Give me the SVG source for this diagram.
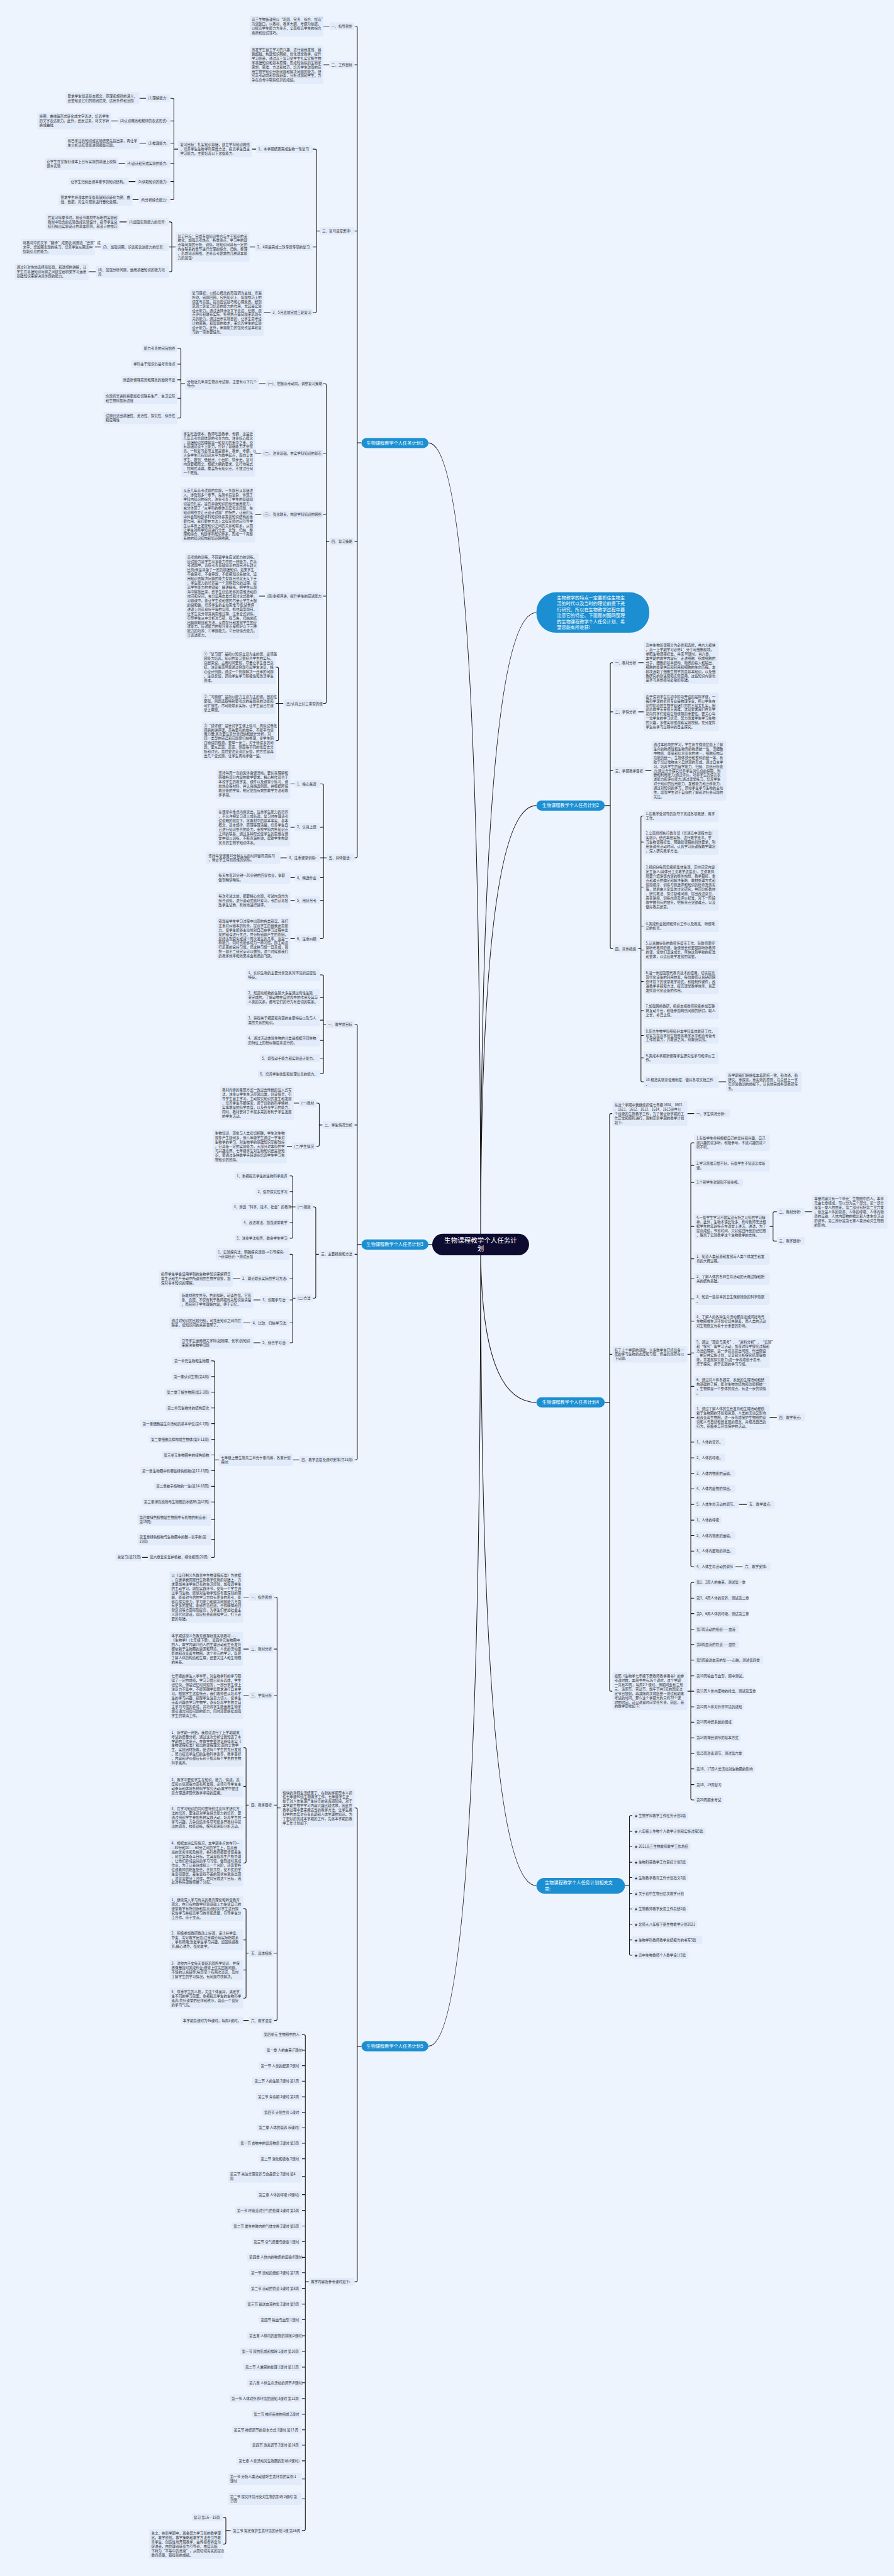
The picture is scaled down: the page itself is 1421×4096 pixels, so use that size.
<svg xmlns="http://www.w3.org/2000/svg" width="1421" height="4096" viewBox="0 0 1421 4096">
<style>
.b{fill:#e2ebfa}
.t{font-family:"Noto Sans CJK SC","Noto Sans",sans-serif;font-size:10px;fill:#333}
.c{fill:none;stroke:#1c1c1c;stroke-width:2}
.m{fill:#1c8fd2}
.w{font-family:"Noto Sans CJK SC","Noto Sans",sans-serif;font-size:13px;fill:#fff}
.r{fill:#0e0b30}
.rt{font-family:"Noto Sans CJK SC","Noto Sans",sans-serif;font-size:19px;fill:#fff}
</style>
<rect width="1421" height="4096" fill="#eef4fe"/>
<g transform="scale(0.554)">
<g id="connectors">
<path class="c" d="M1379,3572 Q1379,1758 1539,1758 M1379,3572 Q1379,2312 1539,2312 M1379,3572 Q1379,4025 1539,4025 M1379,3572 Q1379,5412 1539,5412 M1379,3572 Q1379,1271 1229,1271 M1379,3572 Q1379,5873 1229,5873 M1240,3572 H1229"/>
<path class="c" d="M1037,1271 H1025 M1017,75 H1021 Q1025,75 1025,79 V2458 Q1025,2462 1021,2462 H1017 M1025,186 H1017 M1025,663 H1017 M1025,1554 H1017"/>
<path class="c" d="M918,663 H908 M897,428 H904 Q908,428 908,432 V893 Q908,897 904,897 H897 M908,709 H897"/>
<path class="c" d="M511,428 H499 M489,282 H495 Q499,282 499,286 V569 Q499,573 495,573 H489 M499,347 H489 M499,411 H489 M499,470 H489 M499,521 H489"/>
<path class="c" d="M504,709 H493 M485,637 H489 Q493,637 493,641 V776 Q493,780 489,780 H485 M493,709 H485"/>
<path class="c" d="M945,1554 H936 M927,1101 H932 Q936,1101 936,1105 V2015 Q936,2019 932,2019 H927 M936,1301 H927 M936,1477 H927 M936,1711 H927"/>
<path class="c" d="M531,1101 H519 M509,1000 H515 Q519,1000 519,1004 V1196 Q519,1200 515,1200 H509 M519,1045 H509 M519,1090 H509 M519,1143 H509"/>
<path class="c" d="M813,2019 H799 M791,1915 H795 Q799,1915 799,1919 V2122 Q799,2126 795,2126 H791 M799,2019 H791"/>
<path class="c" d="M937,2462 H928 M918,2250 H924 Q928,2250 928,2254 V2690 Q928,2694 924,2694 H918 M928,2374 H918 M928,2462 H918 M928,2519 H918 M928,2584 H918"/>
<path class="c" d="M928,75 H945 M928,186 H945 M723,428 H735 M400,282 H419 M319,347 H338 M400,411 H419 M340,470 H359 M369,521 H389 M380,573 H398 M716,709 H732 M343,637 H364 M272,709 H289 M254,780 H275 M757,897 H776 M743,1101 H762 M732,1301 H750 M732,1477 H750 M743,1711 H760 M833,2250 H846 M833,2374 H846 M804,2462 H823 M833,2519 H846 M833,2584 H846 M833,2694 H846"/>
<path class="c" d="M1037,3572 H1025 M1017,2940 H1021 Q1025,2940 1025,2944 V4186 Q1025,4190 1021,4190 H1017 M1025,3229 H1017 M1025,3600 H1017"/>
<path class="c" d="M935,2940 H928 M918,2798 H924 Q928,2798 928,2802 V3078 Q928,3082 924,3082 H918 M928,2863 H918 M928,2928 H918 M928,2986 H918 M928,3037 H918"/>
<path class="c" d="M925,3229 H916 M908,3166 H912 Q916,3166 916,3170 V3286 Q916,3290 912,3290 H908"/>
<path class="c" d="M915,3600 H906 M898,3464 H902 Q906,3464 906,3468 V3722 Q906,3726 902,3726 H898"/>
<path class="c" d="M848,3464 H840 M831,3375 H836 Q840,3375 840,3379 V3550 Q840,3554 836,3554 H831 M840,3420 H831 M840,3464 H831 M840,3509 H831"/>
<path class="c" d="M848,3726 H840 M831,3600 H836 Q840,3600 840,3604 V3850 Q840,3854 836,3854 H831 M840,3670 H831 M840,3731 H831 M840,3797 H831"/>
<path class="c" d="M628,4190 H616 M606,3906 H612 Q616,3906 616,3910 V4466 Q616,4470 612,4470 H606 M616,3951 H606 M616,3996 H606 M616,4041 H606 M616,4086 H606 M616,4131 H606 M616,4176 H606 M616,4221 H606 M616,4266 H606 M616,4311 H606 M616,4362 H606 M616,4418 H606"/>
<path class="c" d="M843,3166 H858 M823,3290 H838 M668,3670 H689 M727,3731 H747 M698,3797 H719 M727,3854 H747 M840,4190 H859 M408,4470 H424"/>
<path class="c" d="M1037,5873 H1025 M1017,5189 H1021 Q1025,5189 1025,5193 V6545 Q1025,6549 1021,6549 H1017"/>
<path class="c" d="M805,5189 H795 M786,4584 H791 Q795,4584 795,4588 V5795 Q795,5799 791,5799 H786 M795,4733 H786 M795,4867 H786 M795,5181 H786 M795,5606 H786"/>
<path class="c" d="M714,5181 H706 M698,5016 H702 Q706,5016 706,5020 V5343 Q706,5347 702,5347 H698 M706,5127 H698 M706,5217 H698"/>
<path class="c" d="M714,5606 H706 M698,5478 H702 Q706,5478 706,5482 V5731 Q706,5735 702,5735 H698 M706,5568 H698 M706,5654 H698"/>
<path class="c" d="M698,4584 H714 M698,4733 H714 M698,4867 H714 M698,5799 H714"/>
<path class="c" d="M886,6549 H876 M866,5840 H872 Q876,5840 876,5844 V7259 Q876,7263 872,7263 H866 M876,5884.5 H866 M876,5929 H866 M876,5973.5 H866 M876,6018 H866 M876,6062.5 H866 M876,6107 H866 M876,6151.5 H866 M876,6196 H866 M876,6247 H866 M876,6299 H866 M876,6344 H866 M876,6389 H866 M876,6434 H866 M876,6479 H866 M876,6523 H866 M876,6568 H866 M876,6613 H866 M876,6658 H866 M876,6704 H866 M876,6749 H866 M876,6794 H866 M876,6839 H866 M876,6884 H866 M876,6929 H866 M876,6974 H866 M876,7018 H866 M876,7063 H866 M876,7115 H866 M876,7172 H866"/>
<path class="c" d="M662,7263 H648 M640,7225 H644 Q648,7225 648,7229 V7298 Q648,7302 644,7302 H640"/>
<path class="c" d="M1735,2312 H1751 M1759,1902 H1755 Q1751,1902 1751,1906 V2719 Q1751,2723 1755,2723 H1759 M1751,2043 H1759 M1751,2212 H1759"/>
<path class="c" d="M1831,2723 H1839 M1847,2342 H1843 Q1839,2342 1839,2346 V3101 Q1839,3105 1843,3105 H1847 M1839,2417 H1847 M1839,2546 H1847 M1839,2658 H1847 M1839,2727 H1847 M1839,2817 H1847 M1839,2901 H1847 M1839,2972 H1847 M1839,3036 H1847"/>
<path class="c" d="M1831,1902 H1847 M1831,2043 H1847 M1851,2212 H1869 M2062,3105 H2083"/>
<path class="c" d="M1735,4025 H1749 M1757,3196 H1753 Q1749,3196 1749,3200 V4850 Q1749,4854 1753,4854 H1757 M1749,3887 H1757"/>
<path class="c" d="M1972,3887 H1982 M1992,3280 H1986 Q1982,3280 1982,3284 V4493 Q1982,4497 1986,4497 H1992 M1982,3345 H1992 M1982,3394 H1992 M1982,3520 H1992 M1982,3613 H1992 M1982,3670 H1992 M1982,3728 H1992 M1982,3792 H1992 M1982,3883 H1992 M1982,3979 H1992 M1982,4068 H1992 M1982,4139 H1992 M1982,4184 H1992 M1982,4229 H1992 M1982,4273 H1992 M1982,4318 H1992 M1982,4363 H1992 M1982,4407 H1992 M1982,4452 H1992"/>
<path class="c" d="M2208,3520 H2218 M2229,3478 H2222 Q2218,3478 2218,3482 V3558 Q2218,3562 2222,3562 H2229"/>
<path class="c" d="M1972,4854 H1982 M1992,4542 H1986 Q1982,4542 1982,4546 V5162 Q1982,5166 1986,5166 H1992 M1982,4587 H1992 M1982,4631 H1992 M1982,4676 H1992 M1982,4720 H1992 M1982,4765 H1992 M1982,4810 H1992 M1982,4854 H1992 M1982,4899 H1992 M1982,4943 H1992 M1982,4988 H1992 M1982,5033 H1992 M1982,5077 H1992 M1982,5122 H1992"/>
<path class="c" d="M1972,3196 H1992 M2309,3478 H2330 M2208,4068 H2229 M2120,4318 H2143 M2110,4497 H2131"/>
<path class="c" d="M1793,5412 H1806 M1814,5211 H1810 Q1806,5211 1806,5215 V5608 Q1806,5612 1810,5612 H1814 M1806,5256 H1814 M1806,5300 H1814 M1806,5345 H1814 M1806,5389 H1814 M1806,5434 H1814 M1806,5479 H1814 M1806,5523 H1814 M1806,5568 H1814"/>
</g>

<g id="root"><rect class="r" x="1240" y="3541" width="278" height="62" rx="31"/><text class="rt" x="1379" y="3567" text-anchor="middle">生物课程教学个人任务计<tspan x="1379" dy="23">划</tspan></text></g>

<g id="intro"><rect class="m" x="1539" y="1700" width="324" height="116" rx="56"/><text class="w" x="1598" y="1720">生物教学的特点一定要抓住生物生<tspan x="1598" dy="17">活的时代以及当时的理论前提下进</tspan><tspan x="1598" dy="17">行研究，所以在生物教学过程中要</tspan><tspan x="1598" dy="17">注意它的特征。下面是树图网整理</tspan><tspan x="1598" dy="17">的生物课程教学个人任务计划，希</tspan><tspan x="1598" dy="17">望您能有所收获!</tspan></text></g>

<!-- PLAN 1 -->
<g id="p1"><rect class="m" x="1037" y="1257" width="192" height="29" rx="14.5"/><text class="w" x="1133" y="1276" text-anchor="middle">生物课程教学个人任务计划1</text></g>
<g id="p1-1"><rect class="b" x="945" y="63.75" width="72" height="22.5" rx="4"/><text class="t" x="951" y="78.75">一、指导思想</text></g>
<g id="p1-1a"><rect class="b" x="716" y="45" width="212" height="60" rx="4"/><text class="t" x="722" y="60">高三生物备课组以“巩固、完善、综合、提高”<tspan x="722" dy="12.5">为突破口，以教材、教学大纲、考纲为依据，</tspan><tspan x="722" dy="12.5">以提高学生能力为重点，全面提高学生的综合</tspan><tspan x="722" dy="12.5">素质和应试技巧。</tspan></text></g>
<g id="p1-2"><rect class="b" x="945" y="174.75" width="72" height="22.5" rx="4"/><text class="t" x="951" y="189.75">二、工作目标</text></g>
<g id="p1-2a"><rect class="b" x="716" y="131" width="212" height="110" rx="4"/><text class="t" x="722" y="146">激发学生自主学习的兴趣、进行自我发展、自<tspan x="722" dy="12.5">我超越。构建知识网络，优化课堂教学，提升</tspan><tspan x="722" dy="12.5">学习质量，通过高三复习使学生扎实掌握生物</tspan><tspan x="722" dy="12.5">学基础知识和基本原理，形成较熟练的生物学</tspan><tspan x="722" dy="12.5">思想、思维、方法和技巧，培养学生较强的应</tspan><tspan x="722" dy="12.5">用生物学知识分析问题和解决问题的能力。研</tspan><tspan x="722" dy="12.5">究高考动向和命题趋势，分析试题和学生，力</tspan><tspan x="722" dy="12.5">争在高考中取得优异的成绩。</tspan></text></g>
<g id="p1-3"><rect class="b" x="918" y="651.75" width="99" height="22.5" rx="4"/><text class="t" x="924" y="666.75">三、复习进度安排:</text></g>
<g id="p1-3-1"><rect class="b" x="735" y="416.75" width="162" height="22.5" rx="4"/><text class="t" x="741" y="431.75">1、本学期结束完成生物一轮复习</text></g>
<g id="p1-3-1a"><rect class="b" x="511" y="404.25" width="212" height="47.5" rx="4"/><text class="t" x="517" y="419.25">复习目标：扎实知识基础，建立学科知识网络<tspan x="517" dy="12.5">，培养学生生物学科思维方法，提高学生自主</tspan><tspan x="517" dy="12.5">学习能力。主要培养以下这些能力:</tspan></text></g>
<g id="p1-3-1-1"><rect class="b" x="419" y="270.75" width="70" height="22.5" rx="4"/><text class="t" x="425" y="285.75">(1)理解能力:</text></g>
<g id="p1-3-1-1a"><rect class="b" x="188" y="264.5" width="212" height="35" rx="4"/><text class="t" x="194" y="279.5">要求学生知道基本概念、原理和规律的涵义，<tspan x="194" dy="12.5">还要知道它们的前因后果、适用条件和范围</tspan></text></g>
<g id="p1-3-1-2"><rect class="b" x="338" y="335.75" width="151" height="22.5" rx="4"/><text class="t" x="344" y="350.75">(2)认识概念和规律的表达形式:</text></g>
<g id="p1-3-1-2a"><rect class="b" x="107" y="323.25" width="212" height="47.5" rx="4"/><text class="t" x="113" y="338.25">将图、曲线等形式转化成文字表达，培养学生<tspan x="113" dy="12.5">的文字表达能力。此外，还反过来，将文字转</tspan><tspan x="113" dy="12.5">换成曲线.</tspan></text></g>
<g id="p1-3-1-3"><rect class="b" x="419" y="399.75" width="70" height="22.5" rx="4"/><text class="t" x="425" y="414.75">(3)推理能力:</text></g>
<g id="p1-3-1-3a"><rect class="b" x="188" y="393.5" width="212" height="35" rx="4"/><text class="t" x="194" y="408.5">将已学过的知识或实验结果先提出来，再让学<tspan x="194" dy="12.5">生分析该结果能说明哪些问题。</tspan></text></g>
<g id="p1-3-1-4"><rect class="b" x="359" y="458.75" width="130" height="22.5" rx="4"/><text class="t" x="365" y="473.75">(4)设计和完成实验的能力:</text></g>
<g id="p1-3-1-4a"><rect class="b" x="128" y="452.5" width="212" height="35" rx="4"/><text class="t" x="134" y="467.5">让学生在掌握好课本上已有实验的基础上模拟<tspan x="134" dy="12.5">课本实验</tspan></text></g>
<g id="p1-3-1-5"><rect class="b" x="389" y="509.75" width="100" height="22.5" rx="4"/><text class="t" x="395" y="524.75">(5)获取知识的能力:</text></g>
<g id="p1-3-1-5a"><rect class="b" x="197" y="509.75" width="172" height="22.5" rx="4"/><text class="t" x="203" y="524.75">让学生归纳出课本章节的知识结构。</text></g>
<g id="p1-3-1-6"><rect class="b" x="398" y="561.75" width="91" height="22.5" rx="4"/><text class="t" x="404" y="576.75">(6)分析综合能力:</text></g>
<g id="p1-3-1-6a"><rect class="b" x="168" y="555.5" width="212" height="35" rx="4"/><text class="t" x="174" y="570.5">要求学生将课本的某些基础知识转化为图、曲<tspan x="174" dy="12.5">线、数据，对生命现象进行量化处理。</tspan></text></g>
<g id="p1-3-2"><rect class="b" x="732" y="697.75" width="165" height="22.5" rx="4"/><text class="t" x="738" y="712.75">2、4月底完成二轮专题专项的复习</text></g>
<g id="p1-3-2a"><rect class="b" x="504" y="666.5" width="212" height="85" rx="4"/><text class="t" x="510" y="681.5">复习目标：完成专题知识整合与主干知识的系<tspan x="510" dy="12.5">统化，加强高考热点、各章重点、学习中的疑</tspan><tspan x="510" dy="12.5">点等问题的分析、训练，将知识间具有一定的</tspan><tspan x="510" dy="12.5">内在联系的章节进行合理的综合、归纳、整理</tspan><tspan x="510" dy="12.5">，形成知识网络，注重高考要求的几种基本能</tspan><tspan x="510" dy="12.5">力的加强:</tspan></text></g>
<g id="p1-3-2-1"><rect class="b" x="364" y="625.75" width="121" height="22.5" rx="4"/><text class="t" x="370" y="640.75">(1)加强实验能力的培养:</text></g>
<g id="p1-3-2-1a"><rect class="b" x="131" y="613.25" width="212" height="47.5" rx="4"/><text class="t" x="137" y="628.25">在复习每章节时，将该节教材中标明的实验和<tspan x="137" dy="12.5">教材中隐含的实验改成实验设计，指导学生总</tspan><tspan x="137" dy="12.5">结归纳出实验设计的基本原则，和设计的技巧</tspan></text></g>
<g id="p1-3-2-2"><rect class="b" x="289" y="697.75" width="196" height="22.5" rx="4"/><text class="t" x="295" y="712.75">(2)、加强识图、识表和表达能力的培养:</text></g>
<g id="p1-3-2-2a"><rect class="b" x="60" y="685.25" width="212" height="47.5" rx="4"/><text class="t" x="66" y="700.25">将教材中的文字“翻译”成图表;将图表“还原”成<tspan x="66" dy="12.5">文字。增加图表题的练习，培养学生从图表中</tspan><tspan x="66" dy="12.5">提取信息的能力;</tspan></text></g>
<g id="p1-3-2-3"><rect class="b" x="275" y="762.5" width="210" height="35" rx="4"/><text class="t" x="281" y="777.5">(3)、加强分析问题、运用基础知识的能力培<tspan x="281" dy="12.5">养:</tspan></text></g>
<g id="p1-3-2-3a"><rect class="b" x="42" y="756.25" width="212" height="47.5" rx="4"/><text class="t" x="48" y="771.25">通过针对性地选择简答题，和透彻的讲解，让<tspan x="48" dy="12.5">学生在基础知识与题之间建立起桥梁学习运用</tspan><tspan x="48" dy="12.5">基础知识来解决具体题的能力。</tspan></text></g>
<g id="p1-3-3"><rect class="b" x="776" y="885.75" width="121" height="22.5" rx="4"/><text class="t" x="782" y="900.75">3、5月底前完成三轮复习</text></g>
<g id="p1-3-3a"><rect class="b" x="545" y="829.5" width="212" height="135" rx="4"/><text class="t" x="551" y="844.5">复习目标：以核心概念的再强调为主线，查漏<tspan x="551" dy="12.5">补缺，错题回顾。包括知识上、答题技巧上的</tspan><tspan x="551" dy="12.5">误区与盲区。提高应试技巧和心理素质。起到</tspan><tspan x="551" dy="12.5">巩固二轮复习培养的能力的作用，尤其是实验</tspan><tspan x="551" dy="12.5">设计能力，通过选择涉及文字表达、绘图、观</tspan><tspan x="551" dy="12.5">点评价和联系实际、社会热点等问题来巩固有</tspan><tspan x="551" dy="12.5">关的能力。通过出示实验目的，让学生思考设</tspan><tspan x="551" dy="12.5">计的思路，和答题的技术，来培养学生的实验</tspan><tspan x="551" dy="12.5">设计能力。此外，审题能力的强化也是本轮复</tspan><tspan x="551" dy="12.5">习的一项重要任务。</tspan></text></g>
<g id="p1-4"><rect class="b" x="945" y="1542.75" width="72" height="22.5" rx="4"/><text class="t" x="951" y="1557.75">四、复习策略</text></g>
<g id="p1-4-1"><rect class="b" x="762" y="1089.75" width="165" height="22.5" rx="4"/><text class="t" x="768" y="1104.75">(一)、把握高考动向，调整复习策略</text></g>
<g id="p1-4-1a"><rect class="b" x="531" y="1083.5" width="212" height="35" rx="4"/><text class="t" x="537" y="1098.5">分析近几年来生物高考试题，主要有以下几个<tspan x="537" dy="12.5">特点:</tspan></text></g>
<g id="p1-4-1-1"><rect class="b" x="407" y="988.75" width="102" height="22.5" rx="4"/><text class="t" x="413" y="1003.75">能力考查的宗旨始终</text></g>
<g id="p1-4-1-2"><rect class="b" x="377" y="1033.75" width="132" height="22.5" rx="4"/><text class="t" x="383" y="1048.75">学科主干知识仍是考查重点</text></g>
<g id="p1-4-1-3"><rect class="b" x="347" y="1078.75" width="162" height="22.5" rx="4"/><text class="t" x="353" y="1093.75">渗透新课程思想和理念的趋势不变</text></g>
<g id="p1-4-1-4"><rect class="b" x="297" y="1125.5" width="212" height="35" rx="4"/><text class="t" x="303" y="1140.5">命题背景资料将更加密切联系生产、生活实际<tspan x="303" dy="12.5">和生物科技新进展</tspan></text></g>
<g id="p1-4-1-5"><rect class="b" x="297" y="1182.5" width="212" height="35" rx="4"/><text class="t" x="303" y="1197.5">试题仍突出基础性、灵活性、探究性、综合性<tspan x="303" dy="12.5">和应用性</tspan></text></g>
<g id="p1-4-2"><rect class="b" x="750" y="1289.75" width="177" height="22.5" rx="4"/><text class="t" x="756" y="1304.75">(二)、注重基础，夯实学科知识的基石</text></g>
<g id="p1-4-2a"><rect class="b" x="520" y="1233.5" width="212" height="135" rx="4"/><text class="t" x="526" y="1248.5">学生吃透课本，教师吃透教参、考纲，这是近<tspan x="526" dy="12.5">几年高考命题体现的考查方向。注重核心概念</tspan><tspan x="526" dy="12.5">，基础知识的理解是一轮复习的重中之重，没</tspan><tspan x="526" dy="12.5">有基础就谈不上能力，打好了基础能力才会提</tspan><tspan x="526" dy="12.5">高。一轮复习必须立足是课本、教参、考纲，以</tspan><tspan x="526" dy="12.5">大多学生已有知识水平为教学起点，面向全体</tspan><tspan x="526" dy="12.5">学生，做到：低起点、小台阶、快步走。复习</tspan><tspan x="526" dy="12.5">内容要细而全，根据大纲的要求，实行地毯式</tspan><tspan x="526" dy="12.5">、拉网式清理，覆盖所有知识点，不放过任何</tspan><tspan x="526" dy="12.5">一个死角。</tspan></text></g>
<g id="p1-4-3"><rect class="b" x="750" y="1465.75" width="177" height="22.5" rx="4"/><text class="t" x="756" y="1480.75">(三)、强化联系，构建学科知识的网络</text></g>
<g id="p1-4-3a"><rect class="b" x="520" y="1397" width="212" height="160" rx="4"/><text class="t" x="526" y="1412">从近几年高考试题的命题，一条题目从基础进<tspan x="526" dy="12.5">入，涉及到多个章节，先简单后复杂，体现了</tspan><tspan x="526" dy="12.5">学科内知识的综合，注重考查了学生的基础知</tspan><tspan x="526" dy="12.5">识是否扎实，是否具备知识的综合运用能力，</tspan><tspan x="526" dy="12.5">充分体现了“从学科的整体高度考虑问题，在</tspan><tspan x="526" dy="12.5">知识网络交汇点设计试题”的特色，让我们从</tspan><tspan x="526" dy="12.5">中体会到构建学科知识体系完善知识结构的重</tspan><tspan x="526" dy="12.5">要作用。我们要在方法上舍得花费时间引导学</tspan><tspan x="526" dy="12.5">生从本质上发现知识之间的关系和联系，从而</tspan><tspan x="526" dy="12.5">让学生对所学知识进行分类、比较、归纳、整</tspan><tspan x="526" dy="12.5">理和综合，构建学科知识体系，形成一个完整</tspan><tspan x="526" dy="12.5">系统的知识结构和知识网络图。</tspan></text></g>
<g id="p1-4-4"><rect class="b" x="760" y="1699.75" width="167" height="22.5" rx="4"/><text class="t" x="766" y="1714.75">(四)重视评讲，提升学生的应试能力</text></g>
<g id="p1-4-4a"><rect class="b" x="531" y="1587.25" width="212" height="247.5" rx="4"/><text class="t" x="537" y="1602.25">高考前的训练，不回避学生应试能力的训练。<tspan x="537" dy="12.5">应试能力是学生众多能力中的一种能力，在高</tspan><tspan x="537" dy="12.5">考试题中，直接考查基础知识的题目占有较大</tspan><tspan x="537" dy="12.5">比例;但是具备了一定的基础知识，如果学生</tspan><tspan x="537" dy="12.5">不会思考，不会审题，不能把知识系统化，运</tspan><tspan x="537" dy="12.5">用知识去解决问题的能力型题目也就无从下手</tspan><tspan x="537" dy="12.5">，学生能力的培养是一个潜移默化的过程，提</tspan><tspan x="537" dy="12.5">高学生能力的关键是：精讲精练，把学生从题</tspan><tspan x="537" dy="12.5">海中解放出来，给学生创造足够的思维活动的</tspan><tspan x="537" dy="12.5">时间和空间，充分运用启发式和讨论式教学，</tspan><tspan x="537" dy="12.5">习题课中，能让学生说和做的尽量让学生大胆</tspan><tspan x="537" dy="12.5">的说和做，培养学生的主动思维习惯;试卷评</tspan><tspan x="537" dy="12.5">讲课上创造良好平等的氛围，抓住典型题目，</tspan><tspan x="537" dy="12.5">让学生充分暴露其思维过程，注重变式训练，</tspan><tspan x="537" dy="12.5">引导学生从中分析对与错、得与失，归纳总结</tspan><tspan x="537" dy="12.5">出解题规律和方法，从而提升和发展学生的应</tspan><tspan x="537" dy="12.5">试能力，应试能力的提升重点是抓好以下三种</tspan><tspan x="537" dy="12.5">能力的培养：①审题能力。②分析综合能力。</tspan><tspan x="537" dy="12.5">③表述能力。</tspan></text></g>
<g id="p1-4-5"><rect class="b" x="813" y="2007.75" width="114" height="22.5" rx="4"/><text class="t" x="819" y="2022.75">(五)认真上好三类型的课</text></g>
<g id="p1-4-5-1"><rect class="b" x="579" y="1866.25" width="212" height="97.5" rx="4"/><text class="t" x="585" y="1881.25">①“复习课”是指以知识立意为主的课，必须兼<tspan x="585" dy="12.5">顾能力培养。知识的复习要结合学生的实际，</tspan><tspan x="585" dy="12.5">总起来说，占用时间要短，尽量让学生自己总</tspan><tspan x="585" dy="12.5">结，注意事项尽量通过例题引起学生注意，精</tspan><tspan x="585" dy="12.5">心设计例题，通过一个例题解决一连串的问题</tspan><tspan x="585" dy="12.5">。注意反馈，调动学生学习积极性和激活学生</tspan><tspan x="585" dy="12.5">思维。</tspan></text></g>
<g id="p1-4-5-2"><rect class="b" x="579" y="1989" width="212" height="60" rx="4"/><text class="t" x="585" y="2004">②“习题课”是指以能力立意为主的课。目的性<tspan x="585" dy="12.5">要强，例题选取特别要考虑的是题目的功能和</tspan><tspan x="585" dy="12.5">可扩展性。尽可能联系实际，让学生自己在课</tspan><tspan x="585" dy="12.5">堂上审题。</tspan></text></g>
<g id="p1-4-5-3"><rect class="b" x="579" y="2071" width="212" height="110" rx="4"/><text class="t" x="585" y="2086">③“讲评课”是针对学生课上练习、周练试卷批<tspan x="585" dy="12.5">阅后的讲评课。首先要有的放矢，不能平均使</tspan><tspan x="585" dy="12.5">用力量;其次要注意分类归纳和统计分析，对</tspan><tspan x="585" dy="12.5">同一类型的错误和问题要归纳整理，使学生明</tspan><tspan x="585" dy="12.5">白错误的根源。要举一反三，对于错误多的问</tspan><tspan x="585" dy="12.5">题，要从正面、反面、侧面等不同的角度去分</tspan><tspan x="585" dy="12.5">析和讨论。最后要注意深层反馈，的方式是再</tspan><tspan x="585" dy="12.5">出几个变式题，让学生再动手做一遍。</tspan></text></g>
<g id="p1-5"><rect class="b" x="937" y="2450.75" width="80" height="22.5" rx="4"/><text class="t" x="943" y="2465.75">五、具体做法:</text></g>
<g id="p1-5-1"><rect class="b" x="846" y="2238.75" width="72" height="22.5" rx="4"/><text class="t" x="852" y="2253.75">1、精心备课</text></g>
<g id="p1-5-1a"><rect class="b" x="621" y="2207.5" width="212" height="85" rx="4"/><text class="t" x="627" y="2222.5">坚持每周一次的集体备课活动，要认真理解和<tspan x="627" dy="12.5">明确各部分内容的教学要求。精心制作适合于</tspan><tspan x="627" dy="12.5">本校学生的教学案、课件以及课堂小练习、课</tspan><tspan x="627" dy="12.5">前热身等材料，并认真挑选例题。并根据所任</tspan><tspan x="627" dy="12.5">教班级的学情，制定更加有效的教学方法和教</tspan><tspan x="627" dy="12.5">学手段。</tspan></text></g>
<g id="p1-5-2"><rect class="b" x="846" y="2362.75" width="72" height="22.5" rx="4"/><text class="t" x="852" y="2377.75">2、认真上课</text></g>
<g id="p1-5-2a"><rect class="b" x="621" y="2319" width="212" height="110" rx="4"/><text class="t" x="627" y="2334">在课堂中重点内容突出，注重学生能力的培养<tspan x="627" dy="12.5">，不允许把复习课上成新课。复习时在理清考</tspan><tspan x="627" dy="12.5">试说明的前提下，将教材中的基本事实、基本</tspan><tspan x="627" dy="12.5">概念、基本规律、原理等理清楚，培养学生自</tspan><tspan x="627" dy="12.5">己进行知识整合的能力，重视学科内各知识点</tspan><tspan x="627" dy="12.5">之间的联系，通过多种形式使学生的思维在课</tspan><tspan x="627" dy="12.5">堂中得以训练，不断查漏补缺，帮助学生构建</tspan><tspan x="627" dy="12.5">完善的生物学知识体系。</tspan></text></g>
<g id="p1-5-3"><rect class="b" x="823" y="2450.75" width="95" height="22.5" rx="4"/><text class="t" x="829" y="2465.75">3、注重课堂训练:</text></g>
<g id="p1-5-3a"><rect class="b" x="592" y="2444.5" width="212" height="35" rx="4"/><text class="t" x="598" y="2459.5">坚持每堂课用10分钟左右的时间做巩固练习<tspan x="598" dy="12.5">，保证学生得到思维的训练。</tspan></text></g>
<g id="p1-5-4"><rect class="b" x="846" y="2507.75" width="72" height="22.5" rx="4"/><text class="t" x="852" y="2522.75">4、精选作业</text></g>
<g id="p1-5-4a"><rect class="b" x="621" y="2501.5" width="212" height="35" rx="4"/><text class="t" x="627" y="2516.5">每天布置20分钟—30分钟的回家作业，争取<tspan x="627" dy="12.5">做到精讲精练。</tspan></text></g>
<g id="p1-5-5"><rect class="b" x="846" y="2572.75" width="72" height="22.5" rx="4"/><text class="t" x="852" y="2587.75">5、用好月考</text></g>
<g id="p1-5-5a"><rect class="b" x="621" y="2560.25" width="212" height="47.5" rx="4"/><text class="t" x="627" y="2575.25">每次考试之前，都要精心命题，考试内容均为<tspan x="627" dy="12.5">综合训练，进行滚动式循环复习，考后认真批</tspan><tspan x="627" dy="12.5">改学生试卷，有效地进行讲评。</tspan></text></g>
<g id="p1-5-6"><rect class="b" x="846" y="2682.75" width="72" height="22.5" rx="4"/><text class="t" x="852" y="2697.75">6、注重纠错</text></g>
<g id="p1-5-6a"><rect class="b" x="621" y="2632.75" width="212" height="122.5" rx="4"/><text class="t" x="627" y="2647.75">错题是学生学习过程中出现的各类错误。我们<tspan x="627" dy="12.5">注重对纠错本的检查，提高学生的自我反思能</tspan><tspan x="627" dy="12.5">力。使学生能够主动地对自己在学习过程中出</tspan><tspan x="627" dy="12.5">现的错误进行关注，并分析错题产生的原因，</tspan><tspan x="627" dy="12.5">最终达到避免或减少再次发生的几率。这是一</tspan><tspan x="627" dy="12.5">种能力，同时也能够成为一种习惯，即主动进</tspan><tspan x="627" dy="12.5">行反思的良好习惯。但这种习惯一旦养成，我</tspan><tspan x="627" dy="12.5">想一题不二错完全可以做到，这个时候那我们</tspan><tspan x="627" dy="12.5">的教学效率和效果将会有质的飞跃。</tspan></text></g>

<!-- PLAN 3 -->
<g id="p3"><rect class="m" x="1037" y="3557.5" width="192" height="29" rx="14.5"/><text class="w" x="1133" y="3576.5" text-anchor="middle">生物课程教学个人任务计划3</text></g>
<g id="p3-1"><rect class="b" x="935" y="2928.75" width="82" height="22.5" rx="4"/><text class="t" x="941" y="2943.75">一、教学总目标</text></g>
<g id="p3-1-1"><rect class="b" x="706" y="2780.5" width="212" height="35" rx="4"/><text class="t" x="712" y="2795.5">1、认识生物的主要分类及其对环境的适应性<tspan x="712" dy="12.5">特征。</tspan></text></g>
<g id="p3-1-2"><rect class="b" x="706" y="2839.25" width="212" height="47.5" rx="4"/><text class="t" x="712" y="2854.25">2、知道动植物的生殖大多是通过有性生殖<tspan x="712" dy="12.5">来完成的，了解动物在自然界中的作用及其与</tspan><tspan x="712" dy="12.5">人类的关系，都与它们的行为有密切的联系。</tspan></text></g>
<g id="p3-1-3"><rect class="b" x="706" y="2910.5" width="212" height="35" rx="4"/><text class="t" x="712" y="2925.5">3、获得关于细菌和真菌的主要特征以及与人<tspan x="712" dy="12.5">类的关系的知识。</tspan></text></g>
<g id="p3-1-4"><rect class="b" x="706" y="2968.5" width="212" height="35" rx="4"/><text class="t" x="712" y="2983.5">4、通过活动体验生物的分类是根据不同生物<tspan x="712" dy="12.5">的特征上的相似程度来进行的。</tspan></text></g>
<g id="p3-1-5"><rect class="b" x="746" y="3025.75" width="172" height="22.5" rx="4"/><text class="t" x="752" y="3040.75">5、增强动手能力和实验设计能力。</text></g>
<g id="p3-1-6"><rect class="b" x="740" y="3070.75" width="178" height="22.5" rx="4"/><text class="t" x="746" y="3085.75">6、培养学生收集和处理信息的能力。</text></g>
<g id="p3-2"><rect class="b" x="925" y="3217.75" width="92" height="22.5" rx="4"/><text class="t" x="931" y="3232.75">二、学生情况分析</text></g>
<g id="p3-2-1"><rect class="b" x="858" y="3154.75" width="50" height="22.5" rx="4"/><text class="t" x="864" y="3169.75">(一)教材</text></g>
<g id="p3-2-1a"><rect class="b" x="631" y="3117.25" width="212" height="97.5" rx="4"/><text class="t" x="637" y="3132.25">教材内容的呈现方式一改过去传统的注入式写<tspan x="637" dy="12.5">法，注重从学生生活经验出发，创设情景，引</tspan><tspan x="637" dy="12.5">导学生自主学习，主动探究知识的发生和发展</tspan><tspan x="637" dy="12.5">，培养学生不断探索、勇于创新的科学精神，</tspan><tspan x="637" dy="12.5">实事求是的科学态度，以及终身学习的能力，</tspan><tspan x="637" dy="12.5">同时，教材安排了丰富多采的有利于学生发展</tspan><tspan x="637" dy="12.5">的学生活动。</tspan></text></g>
<g id="p3-2-2"><rect class="b" x="838" y="3278.75" width="70" height="22.5" rx="4"/><text class="t" x="844" y="3293.75">(二)学生情况</text></g>
<g id="p3-2-2a"><rect class="b" x="611" y="3241.25" width="212" height="97.5" rx="4"/><text class="t" x="617" y="3256.25">生物知识、现象与人类密切相联，学生对生物<tspan x="617" dy="12.5">现象产生疑问多，但八年级学生通过一学年对</tspan><tspan x="617" dy="12.5">生物学的学习，对生物学的基础知识掌握较好</tspan><tspan x="617" dy="12.5">，已具备一定的实验能力，大部分对本科的学</tspan><tspan x="617" dy="12.5">习兴趣浓厚。七年级学生对生物知识还是新知</tspan><tspan x="617" dy="12.5">识，要通过多种教学手段逐步培养学生学习生</tspan><tspan x="617" dy="12.5">物知识的热情。</tspan></text></g>
<g id="p3-3"><rect class="b" x="915" y="3588.75" width="102" height="22.5" rx="4"/><text class="t" x="921" y="3603.75">三、主要措施和方法</text></g>
<g id="p3-3-1"><rect class="b" x="848" y="3452.75" width="50" height="22.5" rx="4"/><text class="t" x="854" y="3467.75">(一)措施</text></g>
<g id="p3-3-1-1"><rect class="b" x="673" y="3363.75" width="158" height="22.5" rx="4"/><text class="t" x="679" y="3378.75">1、重视提高学生的生物科学素养</text></g>
<g id="p3-3-1-2"><rect class="b" x="733" y="3408.75" width="98" height="22.5" rx="4"/><text class="t" x="739" y="3423.75">2、倡导探究性学习</text></g>
<g id="p3-3-1-3"><rect class="b" x="665" y="3452.75" width="166" height="22.5" rx="4"/><text class="t" x="671" y="3467.75">3、渗透“科学、技术、社会”的教育</text></g>
<g id="p3-3-1-4"><rect class="b" x="693" y="3497.75" width="138" height="22.5" rx="4"/><text class="t" x="699" y="3512.75">4、改进教法，加强课堂教学</text></g>
<g id="p3-3-1-5"><rect class="b" x="673" y="3542.75" width="158" height="22.5" rx="4"/><text class="t" x="679" y="3557.75">5、注重学法指导，教会学生学习</text></g>
<g id="p3-3-2"><rect class="b" x="848" y="3714.75" width="50" height="22.5" rx="4"/><text class="t" x="854" y="3729.75">(二)方法</text></g>
<g id="p3-3-2-1"><rect class="b" x="619" y="3582.5" width="212" height="35" rx="4"/><text class="t" x="625" y="3597.5">1、实验探究法：明确探究课题--&gt;引导探究-<tspan x="625" dy="12.5">-&gt;获得结论--&gt;测试反馈</tspan></text></g>
<g id="p3-3-2-2"><rect class="b" x="689" y="3658.75" width="142" height="22.5" rx="4"/><text class="t" x="695" y="3673.75">2、理论联系实际的学习方法:</text></g>
<g id="p3-3-2-2a"><rect class="b" x="456" y="3646.25" width="212" height="47.5" rx="4"/><text class="t" x="462" y="3661.25">指导学生学会运用学到的生物学知识来解释日<tspan x="462" dy="12.5">常生活和生产劳动中所遇到的生物学现象，加</tspan><tspan x="462" dy="12.5">深对书本知识的理解。</tspan></text></g>
<g id="p3-3-2-3"><rect class="b" x="747" y="3719.75" width="84" height="22.5" rx="4"/><text class="t" x="753" y="3734.75">3、识图学习法:</text></g>
<g id="p3-3-2-3a"><rect class="b" x="515" y="3707.25" width="212" height="47.5" rx="4"/><text class="t" x="521" y="3722.25">新教材图文并茂，色彩鲜明，可读性强。它形<tspan x="521" dy="12.5">象、直观、不仅有利于教师把有关知识讲清楚</tspan><tspan x="521" dy="12.5">，而且利于学生理解内容，便于记忆。</tspan></text></g>
<g id="p3-3-2-4"><rect class="b" x="719" y="3785.75" width="112" height="22.5" rx="4"/><text class="t" x="725" y="3800.75">4、比较、归纳学习法:</text></g>
<g id="p3-3-2-4a"><rect class="b" x="486" y="3779.5" width="212" height="35" rx="4"/><text class="t" x="492" y="3794.5">通过对知识的比较归纳，可找出知识之间内在<tspan x="492" dy="12.5">联系，使知识间的关系更明了。</tspan></text></g>
<g id="p3-3-2-5"><rect class="b" x="747" y="3842.75" width="84" height="22.5" rx="4"/><text class="t" x="753" y="3857.75">5、综合学习法:</text></g>
<g id="p3-3-2-5a"><rect class="b" x="515" y="3836.5" width="212" height="35" rx="4"/><text class="t" x="521" y="3851.5">引导学生运用相关学科(如物理、化学)的知识<tspan x="521" dy="12.5">来解决生物学问题</tspan></text></g>
<g id="p3-4"><rect class="b" x="859" y="4178.75" width="158" height="22.5" rx="4"/><text class="t" x="865" y="4193.75">四、教学进度及课时安排(共21周)</text></g>
<g id="p3-4a"><rect class="b" x="628" y="4172.5" width="212" height="35" rx="4"/><text class="t" x="634" y="4187.5">七年级上册生物共三单元十章内容，各章计划<tspan x="634" dy="12.5">用时:</tspan></text></g>
<g id="p3-4-1"><rect class="b" x="494" y="3894.75" width="112" height="22.5" rx="4"/><text class="t" x="500" y="3909.75">第一单元生物和生物圈</text></g>
<g id="p3-4-2"><rect class="b" x="492" y="3939.75" width="114" height="22.5" rx="4"/><text class="t" x="498" y="3954.75">第一章认识生物(第1周)</text></g>
<g id="p3-4-3"><rect class="b" x="473" y="3984.75" width="133" height="22.5" rx="4"/><text class="t" x="479" y="3999.75">第二章了解生物圈(第2-3周)</text></g>
<g id="p3-4-4"><rect class="b" x="474" y="4029.75" width="132" height="22.5" rx="4"/><text class="t" x="480" y="4044.75">第二单元生物体的结构层次</text></g>
<g id="p3-4-5"><rect class="b" x="403" y="4074.75" width="203" height="22.5" rx="4"/><text class="t" x="409" y="4089.75">第一章细胞是生命活动的基本单位(第4-7周)</text></g>
<g id="p3-4-6"><rect class="b" x="427" y="4119.75" width="179" height="22.5" rx="4"/><text class="t" x="433" y="4134.75">第二章细胞怎样构成生物体(第8-11周)</text></g>
<g id="p3-4-7"><rect class="b" x="464" y="4164.75" width="142" height="22.5" rx="4"/><text class="t" x="470" y="4179.75">第三单元生物圈中的绿色植物</text></g>
<g id="p3-4-8"><rect class="b" x="402" y="4209.75" width="204" height="22.5" rx="4"/><text class="t" x="408" y="4224.75">第一章生物圈中有哪些绿色植物(第12-13周)</text></g>
<g id="p3-4-9"><rect class="b" x="442" y="4254.75" width="164" height="22.5" rx="4"/><text class="t" x="448" y="4269.75">第二章被子植物的一生(第14-16周)</text></g>
<g id="p3-4-10"><rect class="b" x="407" y="4299.75" width="199" height="22.5" rx="4"/><text class="t" x="413" y="4314.75">第三章绿色植物与生物圈的水循环(第17周)</text></g>
<g id="p3-4-11"><rect class="b" x="394" y="4344.5" width="212" height="35" rx="4"/><text class="t" x="400" y="4359.5">第四章绿色植物是生物圈中有机物的制造者(<tspan x="400" dy="12.5">第18周)</tspan></text></g>
<g id="p3-4-12"><rect class="b" x="394" y="4400.5" width="212" height="35" rx="4"/><text class="t" x="400" y="4415.5">第五章绿色植物与生物圈中的碳—氧平衡(第<tspan x="400" dy="12.5">19周)</tspan></text></g>
<g id="p3-4-13"><rect class="b" x="424" y="4458.75" width="182" height="22.5" rx="4"/><text class="t" x="430" y="4473.75">第六章爱家爱护植被，绿化祖国(20周)</text></g>
<g id="p3-4-13a"><rect class="b" x="331" y="4458.75" width="77" height="22.5" rx="4"/><text class="t" x="337" y="4473.75">总复习(第21周)</text></g>

<!-- PLAN 5 -->
<g id="p5"><rect class="m" x="1037" y="5858.5" width="192" height="29" rx="14.5"/><text class="w" x="1133" y="5877.5" text-anchor="middle">生物课程教学个人任务计划5</text></g>
<g id="p5-1"><rect class="b" x="805" y="5134" width="212" height="110" rx="4"/><text class="t" x="811" y="5149">愉快的寒假生活结束了，在新的学期里本人担<tspan x="811" dy="12.5">任七年级90班生物教学工作，七年级学生正</tspan><tspan x="811" dy="12.5">处于对人体生理产生好奇的青春期阶段，对于</tspan><tspan x="811" dy="12.5">本学期生物学学习内容兴趣比较浓厚，因此在</tspan><tspan x="811" dy="12.5">教学过程中要采用适当的教学方法，让学生用</tspan><tspan x="811" dy="12.5">科学的态度对待青春期和人体生理的知识。为</tspan><tspan x="811" dy="12.5">了更好的完成本学期的工作，先将本学期的教</tspan><tspan x="811" dy="12.5">学工作计划如下:</tspan></text></g>
<g id="p5-1-1"><rect class="b" x="714" y="4572.75" width="72" height="22.5" rx="4"/><text class="t" x="720" y="4587.75">一、指导思想</text></g>
<g id="p5-1-1a"><rect class="b" x="486" y="4510.25" width="212" height="147.5" rx="4"/><text class="t" x="492" y="4525.25">以《全日制义务教育中生物课程标准》为依据<tspan x="492" dy="12.5">，在继承我国现行生物教学优势的基础上，力</tspan><tspan x="492" dy="12.5">求更加关注学生已有的生活经验，加强调学生</tspan><tspan x="492" dy="12.5">的主动学习，增加实践环节，使每一个学生通</tspan><tspan x="492" dy="12.5">过学习生物，能够对生物学知识有更深刻的理</tspan><tspan x="492" dy="12.5">解，能够对今后的学习方向有更多的思考，能</tspan><tspan x="492" dy="12.5">够在探究能力，学习能力和解决问题能力方面</tspan><tspan x="492" dy="12.5">有更多的发展，能够在责任感，合作精神和创</tspan><tspan x="492" dy="12.5">新意识等方面得到提高，为学生们参加社会主</tspan><tspan x="492" dy="12.5">义现代化建设，适应社会和继续学习，打下必</tspan><tspan x="492" dy="12.5">要的基础。</tspan></text></g>
<g id="p5-1-2"><rect class="b" x="714" y="4721.75" width="72" height="22.5" rx="4"/><text class="t" x="720" y="4736.75">二、教材分析</text></g>
<g id="p5-1-2a"><rect class="b" x="486" y="4684.25" width="212" height="97.5" rx="4"/><text class="t" x="492" y="4699.25">本学期讲授义务教育课程标准实验教材——<tspan x="492" dy="12.5">《生物学》(七年级下册)，第四单元生物圈中</tspan><tspan x="492" dy="12.5">的人，教学内容介绍人的生理活动和生长发育</tspan><tspan x="492" dy="12.5">都依赖于生物圈的资源和环境，人类的活动更</tspan><tspan x="492" dy="12.5">影响和改变着生物圈。这个单元的学习，既要</tspan><tspan x="492" dy="12.5">了解人体的构造和生理，还要关注人和生物圈</tspan><tspan x="492" dy="12.5">的关系。</tspan></text></g>
<g id="p5-1-3"><rect class="b" x="714" y="4855.75" width="72" height="22.5" rx="4"/><text class="t" x="720" y="4870.75">三、学情分析</text></g>
<g id="p5-1-3a"><rect class="b" x="486" y="4799.5" width="212" height="135" rx="4"/><text class="t" x="492" y="4814.5">七年级的学生入学半年，对生物学科的学习取<tspan x="492" dy="12.5">得了一定的成绩，学习习惯已初步养成，学生</tspan><tspan x="492" dy="12.5">记忆快，但是记忆时间短暂，一部分学生课上</tspan><tspan x="492" dy="12.5">注意力不集中，不能明确学案要求进行自主学</tspan><tspan x="492" dy="12.5">习。根据学生这些特点，我们教师要从培养学</tspan><tspan x="492" dy="12.5">生的学习兴趣、提醒学生注意力切入，使学生</tspan><tspan x="492" dy="12.5">带着兴趣去学习生物学，逐步培养学生独立自</tspan><tspan x="492" dy="12.5">主学习习惯的养成，并培养学生能运用生物学</tspan><tspan x="492" dy="12.5">规范语言回答问题的能力，同时还要继续加强</tspan><tspan x="492" dy="12.5">学生的堂清工作。</tspan></text></g>
<g id="p5-1-4"><rect class="b" x="714" y="5169.75" width="72" height="22.5" rx="4"/><text class="t" x="720" y="5184.75">四、教学目标</text></g>
<g id="p5-1-4-1"><rect class="b" x="486" y="4961" width="212" height="110" rx="4"/><text class="t" x="492" y="4976">1、新学期一开始，我校就进行了上学期期末<tspan x="492" dy="12.5">考试的质量分析，通过这次分析让我知道了本</tspan><tspan x="492" dy="12.5">学期的工作重点，在教学中要注意继续落实《</tspan><tspan x="492" dy="12.5">生物课程标准》提出的课程理念:面向全体学</tspan><tspan x="492" dy="12.5">生，实现因材施教，促进每个学生的充分发展</tspan><tspan x="492" dy="12.5">。努力提高学生们的生物科学素养，教学目标</tspan><tspan x="492" dy="12.5">，内容和评价都应有利于提高每个学生的生物</tspan><tspan x="492" dy="12.5">科学素养。</tspan></text></g>
<g id="p5-1-4-2"><rect class="b" x="486" y="5097" width="212" height="60" rx="4"/><text class="t" x="492" y="5112">2、教学中要使学生在知识，能力，情感，态<tspan x="492" dy="12.5">度和价值观等方面有所发展，必须引导学生主</tspan><tspan x="492" dy="12.5">动参与和体验各种科学探究活动;教学中要注</tspan><tspan x="492" dy="12.5">意合理选择现代教学手段的应用。</tspan></text></g>
<g id="p5-1-4-3"><rect class="b" x="486" y="5180.75" width="212" height="72.5" rx="4"/><text class="t" x="492" y="5195.75">3、在学习知识的同时要特别注意科学研究方<tspan x="492" dy="12.5">法的培养，要注意对学生综合能力的培养，要</tspan><tspan x="492" dy="12.5">通过组织学生参加各种实践活动，培养学生的</tspan><tspan x="492" dy="12.5">学习兴趣，力争创造条件尽可能多开教材中提</tspan><tspan x="492" dy="12.5">出的调查，技能训练，探究和资料分析活动。</tspan></text></g>
<g id="p5-1-4-4"><rect class="b" x="486" y="5279.5" width="212" height="135" rx="4"/><text class="t" x="492" y="5294.5">4、根据本班实际情况，本学期重点放在70—<tspan x="492" dy="12.5">—80分和50——60分之间的学生上，提高我</tspan><tspan x="492" dy="12.5">班的优秀率和及格率，各科教师都要督促差生</tspan><tspan x="492" dy="12.5">，树立集体奋斗目标，尤其是临界生严格管理</tspan><tspan x="492" dy="12.5">，让他们养成良好的学习习惯，做到按时完成</tspan><tspan x="492" dy="12.5">作业，为了让我班成绩上一个台阶，还需要各</tspan><tspan x="492" dy="12.5">任课教师的相互配合，齐抓共管，使不优的学</tspan><tspan x="492" dy="12.5">生变得更优，差生变得不差的现状在我班出现</tspan><tspan x="492" dy="12.5">，这就需要分工合作，共同完成这个目标，因</tspan><tspan x="492" dy="12.5">此对各任课教师做了分配。</tspan></text></g>
<g id="p5-1-5"><rect class="b" x="714" y="5594.75" width="72" height="22.5" rx="4"/><text class="t" x="720" y="5609.75">五、具体措施</text></g>
<g id="p5-1-5-1"><rect class="b" x="486" y="5441.75" width="212" height="72.5" rx="4"/><text class="t" x="492" y="5456.75">1、继续深入学习有关的教育理论和转变教育<tspan x="492" dy="12.5">观念，在已有的教学经验基础上力争使自己的</tspan><tspan x="492" dy="12.5">课堂教学有所创新和提高;组织好学生进行探</tspan><tspan x="492" dy="12.5">究性学习并提高学习效率和质量，引导学生分</tspan><tspan x="492" dy="12.5">工合作，乐于交流。</tspan></text></g>
<g id="p5-1-5-2"><rect class="b" x="486" y="5538" width="212" height="60" rx="4"/><text class="t" x="492" y="5553">2、积极参加教研教改上好课，设计好学案、<tspan x="492" dy="12.5">导案、写好教学反思;注重理论与实际相联系</tspan><tspan x="492" dy="12.5">，学有所用;激发学生学习兴趣，加强情感教</tspan><tspan x="492" dy="12.5">育;精心诱导，强化教学。</tspan></text></g>
<g id="p5-1-5-3"><rect class="b" x="486" y="5624" width="212" height="60" rx="4"/><text class="t" x="492" y="5639">3、对校内子女每天督促巩固所学知识，并保<tspan x="492" dy="12.5">质保量按时完成作业;课堂上优先回答问题，</tspan><tspan x="492" dy="12.5">不懂的认真辅导;每周至少有两次谈话，及时</tspan><tspan x="492" dy="12.5">了解学生的学习情况，有问题尽快解决。</tspan></text></g>
<g id="p5-1-5-4"><rect class="b" x="486" y="5705" width="212" height="60" rx="4"/><text class="t" x="492" y="5720">4、尊重学生的人格，关注个体差异，满足学<tspan x="492" dy="12.5">生不同的学习需要。重视提高学生的生物科学</tspan><tspan x="492" dy="12.5">素养;管好课堂的纪律和秩序，营造一个良好</tspan><tspan x="492" dy="12.5">的学习气氛。</tspan></text></g>
<g id="p5-1-6"><rect class="b" x="714" y="5787.75" width="72" height="22.5" rx="4"/><text class="t" x="720" y="5802.75">六、教学进度</text></g>
<g id="p5-1-6a"><rect class="b" x="519" y="5787.75" width="179" height="22.5" rx="4"/><text class="t" x="525" y="5802.75">本学期总课时为46课时，每周3课时。</text></g>
<g id="p5-2"><rect class="b" x="886" y="6537.75" width="131" height="22.5" rx="4"/><text class="t" x="892" y="6552.75">教学内容及参考课时如下:</text></g>
<g id="p5-2-1"><rect class="b" x="751" y="5828.75" width="115" height="22.5" rx="4"/><text class="t" x="757" y="5843.75">第四单元 生物圈中的人</text></g>
<g id="p5-2-2"><rect class="b" x="759" y="5873.25" width="107" height="22.5" rx="4"/><text class="t" x="765" y="5888.25">第一章 人的由来(7课时)</text></g>
<g id="p5-2-3"><rect class="b" x="742" y="5917.75" width="124" height="22.5" rx="4"/><text class="t" x="748" y="5932.75">第一节 人类的起源 2课时</text></g>
<g id="p5-2-4"><rect class="b" x="724" y="5962.25" width="142" height="22.5" rx="4"/><text class="t" x="730" y="5977.25">第二节 人的生殖 2课时 第1周</text></g>
<g id="p5-2-5"><rect class="b" x="734" y="6006.75" width="132" height="22.5" rx="4"/><text class="t" x="740" y="6021.75">第三节 青春期 2课时 第2周</text></g>
<g id="p5-2-6"><rect class="b" x="752" y="6051.25" width="114" height="22.5" rx="4"/><text class="t" x="758" y="6066.25">第四节 计划生育 1课时</text></g>
<g id="p5-2-7"><rect class="b" x="736" y="6095.75" width="130" height="22.5" rx="4"/><text class="t" x="742" y="6110.75">第二章 人体的营养 (6课时)</text></g>
<g id="p5-2-8"><rect class="b" x="684" y="6140.25" width="182" height="22.5" rx="4"/><text class="t" x="690" y="6155.25">第一节 食物中的营养物质 2课时 第3周</text></g>
<g id="p5-2-9"><rect class="b" x="742" y="6184.75" width="124" height="22.5" rx="4"/><text class="t" x="748" y="6199.75">第二节 消化和吸收 2课时</text></g>
<g id="p5-2-10"><rect class="b" x="654" y="6229.5" width="212" height="35" rx="4"/><text class="t" x="660" y="6244.5">第三节 关注合理营养与食品安全 2课时 第4<tspan x="660" dy="12.5">周</tspan></text></g>
<g id="p5-2-11"><rect class="b" x="736" y="6287.75" width="130" height="22.5" rx="4"/><text class="t" x="742" y="6302.75">第三章 人体的呼吸 (4课时)</text></g>
<g id="p5-2-12"><rect class="b" x="674" y="6332.75" width="192" height="22.5" rx="4"/><text class="t" x="680" y="6347.75">第一节 呼吸道对空气的处理 1课时 第5周</text></g>
<g id="p5-2-13"><rect class="b" x="664" y="6377.75" width="202" height="22.5" rx="4"/><text class="t" x="670" y="6392.75">第二节 发生在肺内的气体交换 2课时 第6周</text></g>
<g id="p5-2-14"><rect class="b" x="722" y="6422.75" width="144" height="22.5" rx="4"/><text class="t" x="728" y="6437.75">第三节 空气质量与健康 1课时</text></g>
<g id="p5-2-15"><rect class="b" x="709" y="6467.75" width="157" height="22.5" rx="4"/><text class="t" x="715" y="6482.75">第四章 人体内的物质的运输(6课时)</text></g>
<g id="p5-2-16"><rect class="b" x="714" y="6511.75" width="152" height="22.5" rx="4"/><text class="t" x="720" y="6526.75">第一节 流动的组织 2课时 第7周</text></g>
<g id="p5-2-17"><rect class="b" x="714" y="6556.75" width="152" height="22.5" rx="4"/><text class="t" x="720" y="6571.75">第二节 流动的管道 1课时 第8周</text></g>
<g id="p5-2-18"><rect class="b" x="704" y="6601.75" width="162" height="22.5" rx="4"/><text class="t" x="710" y="6616.75">第三节 输送血液的泵 2课时 第9周</text></g>
<g id="p5-2-19"><rect class="b" x="742" y="6646.75" width="124" height="22.5" rx="4"/><text class="t" x="748" y="6661.75">第四节 输血与血型 1课时</text></g>
<g id="p5-2-20"><rect class="b" x="709" y="6692.75" width="157" height="22.5" rx="4"/><text class="t" x="715" y="6707.75">第五章 人体内的废物的排除(2课时)</text></g>
<g id="p5-2-21"><rect class="b" x="688" y="6737.75" width="178" height="22.5" rx="4"/><text class="t" x="694" y="6752.75">第一节 尿的形成和排除 1课时 第10周</text></g>
<g id="p5-2-22"><rect class="b" x="698" y="6782.75" width="168" height="22.5" rx="4"/><text class="t" x="704" y="6797.75">第二节 人粪尿的处理 1课时 第11周</text></g>
<g id="p5-2-23"><rect class="b" x="709" y="6827.75" width="157" height="22.5" rx="4"/><text class="t" x="715" y="6842.75">第六章 人体生命活动的调节(8课时)</text></g>
<g id="p5-2-24"><rect class="b" x="658" y="6872.75" width="208" height="22.5" rx="4"/><text class="t" x="664" y="6887.75">第一节 人体对外界环境的感知 3课时 第12周</text></g>
<g id="p5-2-25"><rect class="b" x="722" y="6917.75" width="144" height="22.5" rx="4"/><text class="t" x="728" y="6932.75">第二节 神经系统的组成 2课时</text></g>
<g id="p5-2-26"><rect class="b" x="665" y="6962.75" width="201" height="22.5" rx="4"/><text class="t" x="671" y="6977.75">第三节 神经调节的基本方式 1课时 第13 周</text></g>
<g id="p5-2-27"><rect class="b" x="718" y="7006.75" width="148" height="22.5" rx="4"/><text class="t" x="724" y="7021.75">第四节 激素调节 2课时 第14周</text></g>
<g id="p5-2-28"><rect class="b" x="679" y="7051.75" width="187" height="22.5" rx="4"/><text class="t" x="685" y="7066.75">第七章 人类活动对生物圈的影响(4课时)</text></g>
<g id="p5-2-29"><rect class="b" x="654" y="7097.5" width="212" height="35" rx="4"/><text class="t" x="660" y="7112.5">第一节 分析人类活动破坏生态环境的实例 1<tspan x="660" dy="12.5">课时</tspan></text></g>
<g id="p5-2-30"><rect class="b" x="654" y="7154.5" width="212" height="35" rx="4"/><text class="t" x="660" y="7169.5">第二节 探究环境污染对生物的影响 2课时 第<tspan x="660" dy="12.5">15周</tspan></text></g>
<g id="p5-2-31"><rect class="b" x="662" y="7251.75" width="204" height="22.5" rx="4"/><text class="t" x="668" y="7266.75">第三节 拟定保护生态环境的计划 1课 第16周</text></g>
<g id="p5-2-31-1"><rect class="b" x="550" y="7213.75" width="90" height="22.5" rx="4"/><text class="t" x="556" y="7228.75">复习 第16---18周</text></g>
<g id="p5-2-31-2"><rect class="b" x="428" y="7259.5" width="212" height="85" rx="4"/><text class="t" x="434" y="7274.5">总之，在新学期中，我会努力学习新的教学理<tspan x="434" dy="12.5">念，教学原则，教学策略和教学方法去引导教</tspan><tspan x="434" dy="12.5">育学生、创造性地开展教学，由传授者转变为</tspan><tspan x="434" dy="12.5">促进者，由管理者转变为引导者，由居高临</tspan><tspan x="434" dy="12.5">下转为“平等中的首席”，从而切切实实的提高</tspan><tspan x="434" dy="12.5">教育质量，取得新的成绩。</tspan></text></g>

<!-- PLAN 2 -->
<g id="p2"><rect class="m" x="1539" y="2297.5" width="196" height="29" rx="14.5"/><text class="w" x="1637" y="2316.5" text-anchor="middle">生物课程教学个人任务计划2</text></g>
<g id="p2-1"><rect class="b" x="1759" y="1890.75" width="72" height="22.5" rx="4"/><text class="t" x="1765" y="1905.75">一、教材分析</text></g>
<g id="p2-1a"><rect class="b" x="1847" y="1840.75" width="215" height="122.5" rx="4"/><text class="t" x="1853" y="1855.75">高中生物新课程分为必修和选修，共六大模块<tspan x="1853" dy="12.5">，高一上学期学习必修1：分子与细胞模块。</tspan><tspan x="1853" dy="12.5">参照生物课程标准，共需36课时，共六章，</tspan><tspan x="1853" dy="12.5">本学期的教学内容有：走进细胞、组成细胞的</tspan><tspan x="1853" dy="12.5">分子、细胞的基本结构、物质的输入和输出、</tspan><tspan x="1853" dy="12.5">细胞的能量供应和利用和细胞的生命历程。本</tspan><tspan x="1853" dy="12.5">模块选取了细胞生物学的最基本知识，以及细</tspan><tspan x="1853" dy="12.5">胞研究的新进展和实际应用，这些知识内容也</tspan><tspan x="1853" dy="12.5">是学习其他模块必备的基础。</tspan></text></g>
<g id="p2-2"><rect class="b" x="1759" y="2031.75" width="72" height="22.5" rx="4"/><text class="t" x="1765" y="2046.75">二、学情分析</text></g>
<g id="p2-2a"><rect class="b" x="1847" y="1988" width="215" height="110" rx="4"/><text class="t" x="1853" y="2003">由于深圳学生在初中阶段开设的是科学课，一<tspan x="1853" dy="12.5">般科学课的老师专业是物理专业，所以学生在</tspan><tspan x="1853" dy="12.5">初中阶段的生物学基础打的并不是太扎实，因</tspan><tspan x="1853" dy="12.5">此给教学带来很大困难，这就要求我们在开学</tspan><tspan x="1853" dy="12.5">初向同学们灌输生物课程的重要性，要关心每</tspan><tspan x="1853" dy="12.5">一位学生的学习状况，努力激发学生学习生物</tspan><tspan x="1853" dy="12.5">的兴趣，多做实验或观看实验视频，充分发挥</tspan><tspan x="1853" dy="12.5">学生在学习过程中的自主探究。</tspan></text></g>
<g id="p2-3"><rect class="b" x="1759" y="2200.75" width="92" height="22.5" rx="4"/><text class="t" x="1765" y="2215.75">三、学期教学目标</text></g>
<g id="p2-3a"><rect class="b" x="1869" y="2125.75" width="215" height="172.5" rx="4"/><text class="t" x="1875" y="2140.75">通过本模块的学习，学生将在微观层面上了解<tspan x="1875" dy="12.5">生命的物质性和生物界的物质统一性，活细胞</tspan><tspan x="1875" dy="12.5">中物质、能量和信息变化的统一，细胞结构与</tspan><tspan x="1875" dy="12.5">功能的统一，生物体部分和整体的统一等，有</tspan><tspan x="1875" dy="12.5">助于辩证唯物主义自然观的形成。通过自主学</tspan><tspan x="1875" dy="12.5">习，培养学生的自学能力、归纳、总结分析能</tspan><tspan x="1875" dy="12.5">力;通过合作探究培养学生对信息的获取、判</tspan><tspan x="1875" dy="12.5">断和利用能力;通过评价，培养学生的语言表</tspan><tspan x="1875" dy="12.5">述能力和评价能力;通过课堂练习，培养学生</tspan><tspan x="1875" dy="12.5">对于知识的应用能力、发散能力和迁移能力;</tspan><tspan x="1875" dy="12.5">通过对知识的学习，调动学生学习生物的主动</tspan><tspan x="1875" dy="12.5">性，增强学生对于自身的了解和对社会问题的</tspan><tspan x="1875" dy="12.5">关注。</tspan></text></g>
<g id="p2-4"><rect class="b" x="1759" y="2711.75" width="72" height="22.5" rx="4"/><text class="t" x="1765" y="2726.75">四、具体措施</text></g>
<g id="p2-4-1"><rect class="b" x="1847" y="2324.5" width="215" height="35" rx="4"/><text class="t" x="1853" y="2339.5">1.在教学处领导的指导下完成各项教研、教学<tspan x="1853" dy="12.5">工作。</tspan></text></g>
<g id="p2-4-2"><rect class="b" x="1847" y="2380.75" width="215" height="72.5" rx="4"/><text class="t" x="1853" y="2395.75">2.全面贯彻执行教育部《普通高中课程方案(<tspan x="1853" dy="12.5">实验)》，结合本组实际，进行教学改革。学</tspan><tspan x="1853" dy="12.5">习生物课程标准，明确新课程的具体要求，利</tspan><tspan x="1853" dy="12.5">用备课组活动时间，认真学习新课程教学理念</tspan><tspan x="1853" dy="12.5">，深入研究教学方法。</tspan></text></g>
<g id="p2-4-3"><rect class="b" x="1847" y="2478.5" width="215" height="135" rx="4"/><text class="t" x="1853" y="2493.5">3.组织好每周年级组集体备课，定时间定内容<tspan x="1853" dy="12.5">定主备人(具体分工见教学进度表)，主讲教师</tspan><tspan x="1853" dy="12.5">简要介绍讲课内容的整体构想、教学目标、重</tspan><tspan x="1853" dy="12.5">点和难点的确定和解决策略、教材处理方式和</tspan><tspan x="1853" dy="12.5">讲授顺序、训练习题选择和知识的检查及落实</tspan><tspan x="1853" dy="12.5">等，然后由大家集体讨论研究，共同分析教材</tspan><tspan x="1853" dy="12.5">、研究教法、探讨疑难问题、提出改进意见、</tspan><tspan x="1853" dy="12.5">完善讲授、训练内容及评价标准、对下一阶段</tspan><tspan x="1853" dy="12.5">教学做到有的放矢，把握重点突破难点，以及</tspan><tspan x="1853" dy="12.5">做好教后反思。</tspan></text></g>
<g id="p2-4-4"><rect class="b" x="1847" y="2640.5" width="215" height="35" rx="4"/><text class="t" x="1853" y="2655.5">4.完成作业批阅和评价工作以及教案、听课笔<tspan x="1853" dy="12.5">记的检查。</tspan></text></g>
<g id="p2-4-5"><rect class="b" x="1847" y="2697" width="215" height="60" rx="4"/><text class="t" x="1853" y="2712">5.认真做好新的教师传帮带工作，新教师要经<tspan x="1853" dy="12.5">常听老教师的课，备课组长也要跟踪听新教师</tspan><tspan x="1853" dy="12.5">的课，使他们迅速成长，尽快达到学校的标准</tspan><tspan x="1853" dy="12.5">和要求，以适应教学发展的需要。</tspan></text></g>
<g id="p2-4-6"><rect class="b" x="1847" y="2780.75" width="215" height="72.5" rx="4"/><text class="t" x="1853" y="2795.75">6.进一步加强现代教育技术的应用，切实提高<tspan x="1853" dy="12.5">现代化设备的利用效率，每位教师认真钻研网</tspan><tspan x="1853" dy="12.5">络环境下的课堂教学模式，积极制作课件，改</tspan><tspan x="1853" dy="12.5">进教学手段和方法，提高课堂教学效率，真正</tspan><tspan x="1853" dy="12.5">发挥现代化设备的作用。</tspan></text></g>
<g id="p2-4-7"><rect class="b" x="1847" y="2877.25" width="215" height="47.5" rx="4"/><text class="t" x="1853" y="2892.25">7.加强网络教研，组织本组教师积极参加互联<tspan x="1853" dy="12.5">网互动平台，积极参加网络问题的研讨，取人</tspan><tspan x="1853" dy="12.5">之长，补己之短。</tspan></text></g>
<g id="p2-4-8"><rect class="b" x="1847" y="2948.25" width="215" height="47.5" rx="4"/><text class="t" x="1853" y="2963.25">8.配合生物学科组搞好本学科集体教研工作，<tspan x="1853" dy="12.5">切实为提高学校生物整体教学水平和高考备考</tspan><tspan x="1853" dy="12.5">工作而努力，兴教研之风，树教研氛围。</tspan></text></g>
<g id="p2-4-9"><rect class="b" x="1847" y="3018.5" width="215" height="35" rx="4"/><text class="t" x="1853" y="3033.5">9.完成本学期新课程学生研究性学习和评价工<tspan x="1853" dy="12.5">作。</tspan></text></g>
<g id="p2-4-10"><rect class="b" x="1847" y="3087.5" width="215" height="35" rx="4"/><text class="t" x="1853" y="3102.5">10.规范实验室使用制度、做好各项文档工作<tspan x="1853" dy="12.5">。</tspan></text></g>
<g id="p2-4-10a"><rect class="b" x="2083" y="3075" width="217" height="60" rx="4"/><text class="t" x="2089" y="3090">新学期我们将继续本着团结一致，勤沟通，勤<tspan x="2089" dy="12.5">研究，重探索，重实效的原则，在总结上一学</tspan><tspan x="2089" dy="12.5">年经验教训的前提下，认真地完成各项教研任</tspan><tspan x="2089" dy="12.5">务。</tspan></text></g>

<!-- PLAN 4 -->
<g id="p4"><rect class="m" x="1539" y="4010.5" width="196" height="29" rx="14.5"/><text class="w" x="1637" y="4029.5" text-anchor="middle">生物课程教学个人任务计划4</text></g>
<g id="p4-1"><rect class="b" x="1757" y="3159.75" width="215" height="72.5" rx="4"/><text class="t" x="1763" y="3174.75">在这个学期中我继续担任七年级1604、1605<tspan x="1763" dy="12.5">、1611、1612、1613、1614、1615班共七</tspan><tspan x="1763" dy="12.5">个班级的生物教学工作，为了保证新学期的工</tspan><tspan x="1763" dy="12.5">作正常和顺利进行，我制定新学期的教学计划</tspan><tspan x="1763" dy="12.5">如下:</tspan></text></g>
<g id="p4-1a"><rect class="b" x="1992" y="3184.75" width="102" height="22.5" rx="4"/><text class="t" x="1998" y="3199.75">一、学生情况分析:</text></g>
<g id="p4-2"><rect class="b" x="1757" y="3863.25" width="215" height="47.5" rx="4"/><text class="t" x="1763" y="3878.25">有了上个学期的基础，大多数学生已经具备一<tspan x="1763" dy="12.5">定的学习生物的态度和习惯，但是仍然存在以</tspan><tspan x="1763" dy="12.5">下问题:</tspan></text></g>
<g id="p4-2-1"><rect class="b" x="1992" y="3256.25" width="216" height="47.5" rx="4"/><text class="t" x="1998" y="3271.25">1.有些学生单纯根据自己的爱好和兴趣，自己<tspan x="1998" dy="12.5">感兴趣的就多听，积极参与，不感兴趣的就少</tspan><tspan x="1998" dy="12.5">听不听。</tspan></text></g>
<g id="p4-2-2"><rect class="b" x="1992" y="3327.5" width="216" height="35" rx="4"/><text class="t" x="1998" y="3342.5">2.学习思维习惯不好，有些学生不知道怎样听<tspan x="1998" dy="12.5">课。</tspan></text></g>
<g id="p4-2-3"><rect class="b" x="1992" y="3382.75" width="140" height="22.5" rx="4"/><text class="t" x="1998" y="3397.75">3.个别学生对副科不够重视。</text></g>
<g id="p4-2-4"><rect class="b" x="1992" y="3483.75" width="216" height="72.5" rx="4"/><text class="t" x="1998" y="3498.75">4.一些学生学习不踏实没有持之以恒的学习精<tspan x="1998" dy="12.5">神，此外，生物术语比较多，有时教师无法根</tspan><tspan x="1998" dy="12.5">据学生的年龄特点在课堂上讲活，讲透，为了</tspan><tspan x="1998" dy="12.5">提高成绩，节省时间，只好缩回传统的记忆圈</tspan><tspan x="1998" dy="12.5">，脱离了实验教学这个生物教学的支柱。</tspan></text></g>
<g id="p4-2-4-1"><rect class="b" x="2229" y="3466.75" width="80" height="22.5" rx="4"/><text class="t" x="2235" y="3481.75">二、教材分析:</text></g>
<g id="p4-2-4-1a"><rect class="b" x="2330" y="3429.25" width="216" height="97.5" rx="4"/><text class="t" x="2336" y="3444.25">本册内容只有一个单元：生物圈中的人。本单<tspan x="2336" dy="12.5">元由七章组成，可以分为三个部分。第一部分</tspan><tspan x="2336" dy="12.5">是第一章人的由来。第二部分包括第二至六章</tspan><tspan x="2336" dy="12.5">，依次是人体的营养、人体的呼吸、人体内物</tspan><tspan x="2336" dy="12.5">质的运输、人体内废物的排出和人体生命活动</tspan><tspan x="2336" dy="12.5">的调节。第三部分是第七章人类活动对生物圈</tspan><tspan x="2336" dy="12.5">的影响。</tspan></text></g>
<g id="p4-2-4-2"><rect class="b" x="2229" y="3550.75" width="80" height="22.5" rx="4"/><text class="t" x="2235" y="3565.75">三、教学目标:</text></g>
<g id="p4-2-5"><rect class="b" x="1992" y="3595.5" width="216" height="35" rx="4"/><text class="t" x="1998" y="3610.5">1、知道人类起源和发展与人类个体发生和发<tspan x="1998" dy="12.5">育的大概过程。</tspan></text></g>
<g id="p4-2-6"><rect class="b" x="1992" y="3652.5" width="216" height="35" rx="4"/><text class="t" x="1998" y="3667.5">2、了解人体的各种生命活动的大概过程和相<tspan x="1998" dy="12.5">关的结构基础。</tspan></text></g>
<g id="p4-2-7"><rect class="b" x="1992" y="3710.5" width="216" height="35" rx="4"/><text class="t" x="1998" y="3725.5">3、知道一些基本的卫生保健措施的科学依据<tspan x="1998" dy="12.5">。</tspan></text></g>
<g id="p4-2-8"><rect class="b" x="1992" y="3768.25" width="216" height="47.5" rx="4"/><text class="t" x="1998" y="3783.25">4、了解人的各种生命活动都直接或间接地与<tspan x="1998" dy="12.5">生物圈或生活环境密切关联着，而人类的活动</tspan><tspan x="1998" dy="12.5">对生物圈又有着十分重要的影响。</tspan></text></g>
<g id="p4-2-9"><rect class="b" x="1992" y="3840.5" width="216" height="85" rx="4"/><text class="t" x="1998" y="3855.5">5、通过“观察与思考”、“资料分析”、“实验”<tspan x="1998" dy="12.5">和“探究”等学习活动，加深对科学探究过程和</tspan><tspan x="1998" dy="12.5">方法的理解，进一步提高提出问题、作出假设</tspan><tspan x="1998" dy="12.5">、制定并实施计划，记录和分析探究结果等技</tspan><tspan x="1998" dy="12.5">能，并发展探究能力;进一步养成勤于思考、</tspan><tspan x="1998" dy="12.5">乐于探究、勇于实践的学习习惯。</tspan></text></g>
<g id="p4-2-10"><rect class="b" x="1992" y="3949" width="216" height="60" rx="4"/><text class="t" x="1998" y="3964">6、通过对人体各器官、系统的生理活动和结<tspan x="1998" dy="12.5">构基础的了解，能对生物体结构和功能相统一</tspan><tspan x="1998" dy="12.5">，生物体是一个整体的观点，有进一步的领悟</tspan><tspan x="1998" dy="12.5">。</tspan></text></g>
<g id="p4-2-11"><rect class="b" x="1992" y="4031.75" width="216" height="72.5" rx="4"/><text class="t" x="1998" y="4046.75">7、通过了解人体的生长发育和生理活动都依<tspan x="1998" dy="12.5">赖于生物圈的环境和资源，人类的活动又影响</tspan><tspan x="1998" dy="12.5">和改变着生物圈，进一步形成保护生物圈的意</tspan><tspan x="1998" dy="12.5">识和人与自然和谐发展的观念，并规范自己的</tspan><tspan x="1998" dy="12.5">行为，积极参与环境保护的活动。</tspan></text></g>
<g id="p4-2-11a"><rect class="b" x="2229" y="4056.75" width="80" height="22.5" rx="4"/><text class="t" x="2235" y="4071.75">四、教学重点:</text></g>
<g id="p4-2-12"><rect class="b" x="1992" y="4127.75" width="88" height="22.5" rx="4"/><text class="t" x="1998" y="4142.75">1、人体的营养。</text></g>
<g id="p4-2-13"><rect class="b" x="1992" y="4172.75" width="88" height="22.5" rx="4"/><text class="t" x="1998" y="4187.75">2、人体的呼吸。</text></g>
<g id="p4-2-14"><rect class="b" x="1992" y="4217.75" width="118" height="22.5" rx="4"/><text class="t" x="1998" y="4232.75">3、人体内物质的运输。</text></g>
<g id="p4-2-15"><rect class="b" x="1992" y="4261.75" width="118" height="22.5" rx="4"/><text class="t" x="1998" y="4276.75">4、人体内废物的排出。</text></g>
<g id="p4-2-16"><rect class="b" x="1992" y="4306.75" width="128" height="22.5" rx="4"/><text class="t" x="1998" y="4321.75">5、人体生命活动的调节。</text></g>
<g id="p4-2-16a"><rect class="b" x="2143" y="4306.75" width="80" height="22.5" rx="4"/><text class="t" x="2149" y="4321.75">五、教学难点:</text></g>
<g id="p4-2-17"><rect class="b" x="1992" y="4351.75" width="78" height="22.5" rx="4"/><text class="t" x="1998" y="4366.75">1、人体的呼吸</text></g>
<g id="p4-2-18"><rect class="b" x="1992" y="4395.75" width="118" height="22.5" rx="4"/><text class="t" x="1998" y="4410.75">2、人体内物质的运输。</text></g>
<g id="p4-2-19"><rect class="b" x="1992" y="4440.75" width="118" height="22.5" rx="4"/><text class="t" x="1998" y="4455.75">3、人体内废物的排出。</text></g>
<g id="p4-2-20"><rect class="b" x="1992" y="4485.75" width="118" height="22.5" rx="4"/><text class="t" x="1998" y="4500.75">4、人体生命活动的调节</text></g>
<g id="p4-2-20a"><rect class="b" x="2131" y="4485.75" width="80" height="22.5" rx="4"/><text class="t" x="2137" y="4500.75">六、教学安排:</text></g>
<g id="p4-3"><rect class="b" x="1757" y="4799" width="215" height="110" rx="4"/><text class="t" x="1763" y="4814">按照《生物学七年级下册教师教学用书》的参<tspan x="1763" dy="12.5">考课时数，本册书共有36个课时，这个学期</tspan><tspan x="1763" dy="12.5">一共有20周，每周2个课时，但期间会有三月</tspan><tspan x="1763" dy="12.5">三、清明节、劳动节、端午节共5天的国家法</tspan><tspan x="1763" dy="12.5">定节日放假，再减除两次城区统一测试和期末</tspan><tspan x="1763" dy="12.5">考试的时间，那么这个学期大约只有28个课</tspan><tspan x="1763" dy="12.5">时的时间，可以说是时间紧任务重，因此，我</tspan><tspan x="1763" dy="12.5">的教学安排如下:</tspan></text></g>
<g id="p4-3-1"><rect class="b" x="1992" y="4530.75" width="143" height="22.5" rx="4"/><text class="t" x="1998" y="4545.75">第1、2周人的由来，测试第一章</text></g>
<g id="p4-3-2"><rect class="b" x="1992" y="4575.75" width="153" height="22.5" rx="4"/><text class="t" x="1998" y="4590.75">第3、4周人体的营养，测试第二章</text></g>
<g id="p4-3-3"><rect class="b" x="1992" y="4619.75" width="153" height="22.5" rx="4"/><text class="t" x="1998" y="4634.75">第5、6周人体的呼吸，测试第三章</text></g>
<g id="p4-3-4"><rect class="b" x="1992" y="4664.75" width="128" height="22.5" rx="4"/><text class="t" x="1998" y="4679.75">第7周流动的组织——血液</text></g>
<g id="p4-3-5"><rect class="b" x="1992" y="4708.75" width="128" height="22.5" rx="4"/><text class="t" x="1998" y="4723.75">第8周血流的管道——血管</text></g>
<g id="p4-3-6"><rect class="b" x="1992" y="4753.75" width="198" height="22.5" rx="4"/><text class="t" x="1998" y="4768.75">第9周输送血液的泵——心脏，测试第四章</text></g>
<g id="p4-3-7"><rect class="b" x="1992" y="4798.75" width="143" height="22.5" rx="4"/><text class="t" x="1998" y="4813.75">第10周输血与血型，期中测试。</text></g>
<g id="p4-3-8"><rect class="b" x="1992" y="4842.75" width="173" height="22.5" rx="4"/><text class="t" x="1998" y="4857.75">第11周人体内废物的排出，测试第五章</text></g>
<g id="p4-3-9"><rect class="b" x="1992" y="4887.75" width="143" height="22.5" rx="4"/><text class="t" x="1998" y="4902.75">第12周人体对外界环境的感知</text></g>
<g id="p4-3-10"><rect class="b" x="1992" y="4931.75" width="113" height="22.5" rx="4"/><text class="t" x="1998" y="4946.75">第13周神经系统的组成</text></g>
<g id="p4-3-11"><rect class="b" x="1992" y="4976.75" width="133" height="22.5" rx="4"/><text class="t" x="1998" y="4991.75">第14周神经调节的基本方式</text></g>
<g id="p4-3-12"><rect class="b" x="1992" y="5021.75" width="143" height="22.5" rx="4"/><text class="t" x="1998" y="5036.75">第15周激素调节，测试第六章</text></g>
<g id="p4-3-13"><rect class="b" x="1992" y="5065.75" width="174" height="22.5" rx="4"/><text class="t" x="1998" y="5080.75">第16、17周人类活动对生物圈的影响</text></g>
<g id="p4-3-14"><rect class="b" x="1992" y="5110.75" width="74" height="22.5" rx="4"/><text class="t" x="1998" y="5125.75">第18、19周复习</text></g>
<g id="p4-3-15"><rect class="b" x="1992" y="5154.75" width="83" height="22.5" rx="4"/><text class="t" x="1998" y="5169.75">第20周期末考试</text></g>

<!-- RELATED -->
<g id="rel"><rect class="m" x="1539" y="5390" width="254" height="45" rx="22.5"/><text class="w" x="1563" y="5408">生物课程教学个人任务计划相关文<tspan x="1563" dy="18">章:</tspan></text></g>
<g id="rel-1"><rect class="b" x="1814" y="5199.75" width="161" height="22.5" rx="4"/><text class="t" x="1820" y="5214.75">★ 生物学科教学工作任务计划5篇</text></g>
<g id="rel-2"><rect class="b" x="1814" y="5244.75" width="211" height="22.5" rx="4"/><text class="t" x="1820" y="5259.75">★ 八年级上生物个人教学计划和实施过程5篇</text></g>
<g id="rel-3"><rect class="b" x="1814" y="5288.75" width="167" height="22.5" rx="4"/><text class="t" x="1820" y="5303.75">★ 2021高三生物教师教学工作总结</text></g>
<g id="rel-4"><rect class="b" x="1814" y="5333.75" width="161" height="22.5" rx="4"/><text class="t" x="1820" y="5348.75">★ 生物科目教学工作目标计划5篇</text></g>
<g id="rel-5"><rect class="b" x="1814" y="5377.75" width="161" height="22.5" rx="4"/><text class="t" x="1820" y="5392.75">★ 生物教学教育工作计划范文5篇</text></g>
<g id="rel-6"><rect class="b" x="1814" y="5422.75" width="145" height="22.5" rx="4"/><text class="t" x="1820" y="5437.75">★ 关于初中生物分层次教学计划</text></g>
<g id="rel-7"><rect class="b" x="1814" y="5467.75" width="161" height="22.5" rx="4"/><text class="t" x="1820" y="5482.75">★ 生物教师教学反思工作总结5篇</text></g>
<g id="rel-8"><rect class="b" x="1814" y="5511.75" width="187" height="22.5" rx="4"/><text class="t" x="1820" y="5526.75">★ 北师大八年级下册生物教学计划2021</text></g>
<g id="rel-9"><rect class="b" x="1814" y="5556.75" width="201" height="22.5" rx="4"/><text class="t" x="1820" y="5571.75">★ 生物学科教师教学总结报告的书写5篇</text></g>
<g id="rel-10"><rect class="b" x="1814" y="5600.75" width="161" height="22.5" rx="4"/><text class="t" x="1820" y="5615.75">★ 高中生物教师个人教学设计5篇</text></g>
</g>
</svg>
